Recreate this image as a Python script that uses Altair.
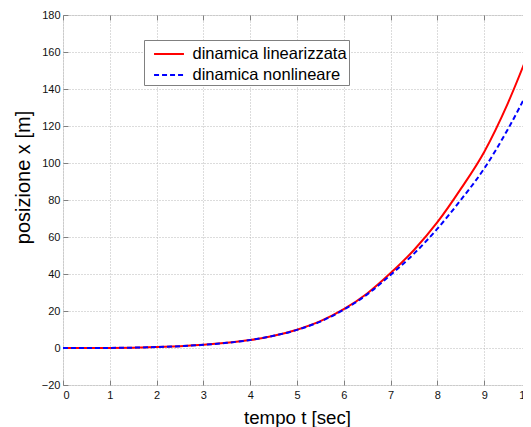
import altair as alt
import pandas as pd

t_vals = [0, 0.5, 1, 1.5, 2, 2.5, 3, 3.5, 4, 4.5, 5, 5.5, 6, 6.5, 7, 7.5, 8, 8.5, 9, 9.5, 10]
x_lin = [0, 0.0, 0.05, 0.2, 0.5, 1.0, 1.7, 2.8, 4.3, 6.6, 9.9, 14.5, 21.0, 29.5, 40.5, 53.0, 68.0, 86.0, 106.0, 132.0, 163.0]
x_nonlin = [0, 0.0, 0.05, 0.2, 0.5, 1.0, 1.7, 2.8, 4.3, 6.6, 9.8, 14.3, 20.7, 29.0, 39.5, 51.0, 64.5, 80.0, 97.0, 118.0, 142.0]
series_names = ["dinamica linearizzata", "dinamica nonlineare"]
x_ticks = list(range(0, 11))
y_ticks = list(range(-20, 181, 20))

df_lin = pd.DataFrame({"t": t_vals, "x": x_lin, "serie": series_names[0]})
df_non = pd.DataFrame({"t": t_vals, "x": x_nonlin, "serie": series_names[1]})

xscale = alt.Scale(domain=[0, 10], nice=False, zero=False)
yscale = alt.Scale(domain=[-20, 180], nice=False, zero=False)
color = alt.Color(
    "serie:N",
    scale=alt.Scale(domain=series_names, range=["#ff0000", "#0000ff"]),
    legend=alt.Legend(
        title=None,
        orient="none",
        legendX=81,
        legendY=25,
        symbolType="M-1.3,0H1.3",
        symbolSize=529,
        symbolStrokeWidth=2,
        symbolOffset=11,
        labelFontSize=16.5,
        labelFont="Liberation Sans",
        labelColor="#000000",
        labelOffset=11,
        labelExpr="datum.label + '      '",
        fillColor="#ffffff",
        strokeColor="#808080",
        padding=1.5,
        rowPadding=0,
    ),
)

common_axis = dict(
    domain=False,
    tickSize=5,
    tickColor="#808080",
    offset=-5,
    labelFont="Liberation Sans",
    labelFontSize=11,
    labelColor="#111111",
    gridColor="#b8b8b8",
    gridDash=[1, 2],
)

red = alt.Chart(df_lin).mark_line(strokeWidth=2, interpolate="monotone").encode(
    x=alt.X("t:Q", scale=xscale, axis=alt.Axis(
        values=x_ticks, title="tempo t [sec]", titleFontSize=18.7, titleFont="Liberation Sans",
        titleFontWeight="normal", titleColor="#000000", titlePadding=8, labelPadding=4,
        **common_axis)),
    y=alt.Y("x:Q", scale=yscale, axis=alt.Axis(
        values=y_ticks, title="posizione x [m]", titleFontSize=20, titleFont="Liberation Sans",
        titleFontWeight="normal", titleColor="#000000", titleX=-39, titleY=162,
        titleBaseline="alphabetic", labelPadding=3, **common_axis)),
    color=color,
)

blue = alt.Chart(df_non).mark_line(strokeWidth=2, strokeDash=[5, 3], interpolate="monotone").encode(
    x=alt.X("t:Q", scale=xscale, axis=alt.Axis(
        orient="top", values=x_ticks, labels=False, title=None, grid=False,
        domain=False, tickSize=5, tickColor="#808080", offset=-5)),
    y=alt.Y("x:Q", scale=yscale, axis=alt.Axis(
        orient="right", values=y_ticks, labels=False, title=None, grid=False,
        domain=False, tickSize=5, tickColor="#808080", offset=-5)),
    color=color,
    strokeDash=alt.StrokeDash("serie:N", scale=alt.Scale(domain=series_names, range=[[1, 0], [5, 3]]), legend=None),
)

chart = alt.layer(red, blue).resolve_axis(x="independent", y="independent").properties(
    width=468,
    height=370,
    autosize=alt.AutoSizeParams(type="none"),
    padding={"left": 55, "top": 7, "right": -8, "bottom": 42},
).configure_view(stroke="#808080", strokeWidth=1).configure(background="#ffffff")

chart.save("out.html", embed_options={"renderer": "svg", "actions": False})
